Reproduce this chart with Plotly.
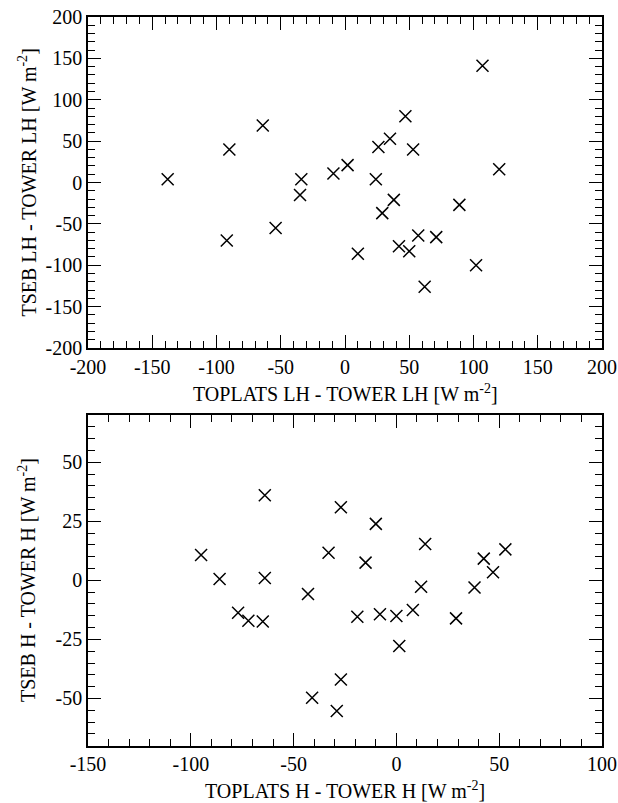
import plotly.graph_objects as go

# Top panel: latent heat differences (W m-2)
lh_toplats = [-138, -90, -64, -92, -54, -34, -35, 107, 47, 35, 26, 53, 2, -9, 24, 120,
              38, 29, 89, 57, 71, 42, 50, 10, 102, 62]
lh_tseb = [4, 40, 69, -70, -55, 4, -15, 141, 80, 53, 43, 40, 21, 11, 4, 16,
           -21, -37, -27, -64, -66, -77, -83, -86, -100, -126]

# Bottom panel: sensible heat differences (W m-2)
h_toplats = [-95, -86, -64, -64, -77, -72, -65, -43, -41, -27, -10, -33, -15, 14, -19, -8,
             0, 8, 12, 1.4, 29, 38, 42.5, 47, 53, -27, -29]
h_tseb = [10.7, 0.6, 36, 1, -13.7, -17.1, -17.4, -5.8, -49.7, 30.9, 23.9, 11.7, 7.5, 15.4,
          -15.4, -14.4, -15.1, -12.6, -2.7, -27.8, -16.1, -3, 9.2, 3.4, 13.1, -42, -55.3]

# Tick values (labels use a plain hyphen as in the reference)
lh_ticks = [-200, -150, -100, -50, 0, 50, 100, 150, 200]
h_xticks = [-150, -100, -50, 0, 50, 100]
h_yticks = [-50, -25, 0, 25, 50]

top_xtitle = "TOPLATS LH - TOWER LH [W m<sup>-2</sup>]"
top_ytitle = "TSEB LH - TOWER LH [W m<sup>-2</sup>]"
bot_xtitle = "TOPLATS H - TOWER H [W m<sup>-2</sup>]"
bot_ytitle = "TSEB H - TOWER H [W m<sup>-2</sup>]"

FONT = "Liberation Serif, Times New Roman, serif"
marker = dict(symbol="x-thin", size=12, line=dict(color="black", width=1.5), color="black")

fig = go.Figure()
fig.add_trace(go.Scatter(x=lh_toplats, y=lh_tseb, mode="markers", marker=marker,
                         xaxis="x", yaxis="y", showlegend=False))
fig.add_trace(go.Scatter(x=h_toplats, y=h_tseb, mode="markers", marker=marker,
                         xaxis="x2", yaxis="y2", showlegend=False))

def ax(rng, ticks, mdtick, domain, anchor):
    return dict(
        range=rng, tickmode="array", tickvals=ticks, ticktext=[str(t) for t in ticks],
        domain=domain, anchor=anchor, automargin=False,
        showgrid=False, zeroline=False, showline=True, linecolor="black", linewidth=1.5,
        mirror="allticks", ticks="inside", ticklen=13, tickwidth=1.3, tickcolor="black",
        minor=dict(tickmode="linear", ticks="inside", ticklen=7, dtick=mdtick, tick0=0,
                   tickwidth=1.1, tickcolor="black", showgrid=False),
        tickfont=dict(family=FONT, size=20, color="black"),
    )

tfont = dict(family=FONT, size=20, color="black")
fig.update_layout(
    width=618, height=803, margin=dict(l=0, r=0, t=0, b=0),
    paper_bgcolor="white", plot_bgcolor="white",
    xaxis=ax([-200, 200], lh_ticks, 10, [0.1424, 0.9741], "y"),
    yaxis=ax([-200, 200], lh_ticks, 10, [0.5666, 0.9788], "x"),
    xaxis2=ax([-150, 100], h_xticks, 10, [0.1424, 0.9741], "y2"),
    yaxis2=ax([-70, 70], h_yticks, 5, [0.0714, 0.4832], "x2"),
    annotations=[
        dict(text=top_xtitle, x=0.5583, y=0.5106, xref="paper", yref="paper",
             showarrow=False, font=tfont, xanchor="center", yanchor="middle"),
        dict(text=bot_xtitle, x=0.5583, y=0.0162, xref="paper", yref="paper",
             showarrow=False, font=tfont, xanchor="center", yanchor="middle"),
        dict(text=top_ytitle, x=0.0437, y=0.7727, xref="paper", yref="paper", textangle=-90,
             showarrow=False, font=tfont, xanchor="center", yanchor="middle"),
        dict(text=bot_ytitle, x=0.0437, y=0.2777, xref="paper", yref="paper", textangle=-90,
             showarrow=False, font=tfont, xanchor="center", yanchor="middle"),
    ],
)

fig.write_html("out.html")
